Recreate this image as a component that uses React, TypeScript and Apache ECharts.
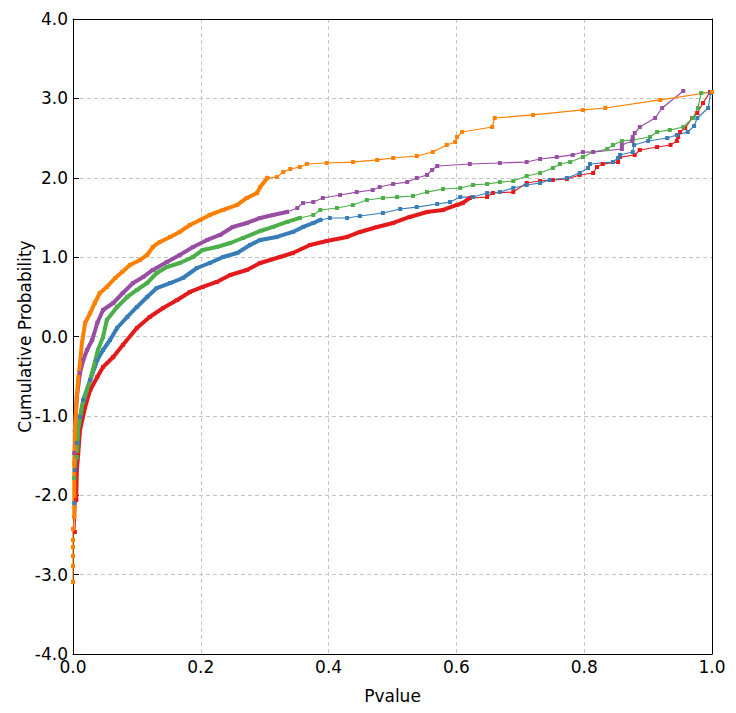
import React, { useEffect, useRef } from "react";
import * as echarts from "echarts";

// Sorted p-values (x) against their normal-score cumulative probability (y)
const redPoints: [number, number][] = [
  [0.003, -2.463], [0.005, -2.06], [0.006, -1.682], [0.008, -1.493], [0.011, -1.178],
  [0.019, -0.888], [0.027, -0.674], [0.038, -0.51], [0.047, -0.384], [0.063, -0.258],
  [0.078, -0.107], [0.1, 0.107], [0.12, 0.246], [0.141, 0.359], [0.163, 0.46],
  [0.183, 0.561], [0.203, 0.624], [0.225, 0.687], [0.246, 0.775], [0.272, 0.838],
  [0.293, 0.926], [0.324, 1.002], [0.344, 1.052], [0.371, 1.153], [0.397, 1.203],
  [0.429, 1.254], [0.449, 1.317], [0.476, 1.38], [0.501, 1.43], [0.527, 1.506],
  [0.554, 1.569], [0.579, 1.594], [0.601, 1.657], [0.61, 1.682], [0.621, 1.745],
  [0.648, 1.757], [0.657, 1.808], [0.689, 1.82], [0.71, 1.934], [0.731, 1.959],
  [0.751, 1.972], [0.773, 1.984], [0.793, 2.035], [0.814, 2.06], [0.82, 2.135],
  [0.829, 2.173], [0.853, 2.198], [0.856, 2.261], [0.879, 2.287], [0.887, 2.35],
  [0.914, 2.387], [0.935, 2.413], [0.945, 2.463], [0.947, 2.513], [0.95, 2.576],
  [0.958, 2.627], [0.969, 2.753], [0.977, 2.816], [0.986, 2.942], [0.997, 3.08],
];

const bluePoints: [number, number][] = [
  [0.002, -2.098], [0.003, -1.682], [0.006, -1.342], [0.011, -1.014], [0.016, -0.8],
  [0.027, -0.548], [0.038, -0.296], [0.047, -0.17], [0.058, -0.044], [0.069, 0.107],
  [0.085, 0.246], [0.1, 0.372], [0.116, 0.498], [0.131, 0.611], [0.152, 0.674],
  [0.172, 0.737], [0.194, 0.863], [0.214, 0.926], [0.235, 1.002], [0.257, 1.052],
  [0.277, 1.153], [0.293, 1.216], [0.319, 1.254], [0.344, 1.317], [0.36, 1.38],
  [0.376, 1.43], [0.387, 1.468], [0.402, 1.493], [0.429, 1.493], [0.449, 1.518],
  [0.485, 1.556], [0.512, 1.606], [0.538, 1.631], [0.57, 1.669], [0.59, 1.694],
  [0.606, 1.757], [0.626, 1.757], [0.648, 1.808], [0.668, 1.82], [0.689, 1.871],
  [0.71, 1.909], [0.731, 1.934], [0.746, 1.972], [0.773, 1.997], [0.793, 2.06],
  [0.806, 2.123], [0.809, 2.173], [0.845, 2.198], [0.853, 2.249], [0.856, 2.287],
  [0.876, 2.324], [0.878, 2.413], [0.9, 2.463], [0.93, 2.501], [0.945, 2.539],
  [0.962, 2.576], [0.972, 2.652], [0.977, 2.753], [0.994, 2.879], [0.998, 3.068],
];

const greenPoints: [number, number][] = [
  [0.002, -1.783], [0.006, -1.518], [0.008, -1.178], [0.014, -0.888], [0.022, -0.674],
  [0.031, -0.422], [0.039, -0.17], [0.047, -0.006], [0.053, 0.208], [0.069, 0.372],
  [0.085, 0.498], [0.1, 0.586], [0.116, 0.674], [0.131, 0.8], [0.147, 0.876],
  [0.167, 0.926], [0.188, 1.002], [0.203, 1.09], [0.225, 1.128], [0.246, 1.178],
  [0.266, 1.241], [0.293, 1.329], [0.313, 1.38], [0.335, 1.443], [0.355, 1.493],
  [0.376, 1.531], [0.387, 1.594], [0.413, 1.619], [0.438, 1.657], [0.46, 1.72],
  [0.485, 1.745], [0.507, 1.757], [0.532, 1.77], [0.554, 1.82], [0.579, 1.858],
  [0.606, 1.871], [0.626, 1.909], [0.648, 1.921], [0.668, 1.946], [0.689, 1.959],
  [0.71, 2.022], [0.731, 2.06], [0.751, 2.123], [0.762, 2.173], [0.778, 2.198],
  [0.798, 2.261], [0.814, 2.324], [0.836, 2.362], [0.845, 2.413], [0.859, 2.463],
  [0.876, 2.476], [0.903, 2.513], [0.914, 2.576], [0.934, 2.602], [0.955, 2.639],
  [0.97, 2.753], [0.978, 2.879], [0.983, 3.068], [1.0, 3.08],
];

const purplePoints: [number, number][] = [
  [0.002, -1.468], [0.003, -1.178], [0.006, -0.762], [0.011, -0.46], [0.016, -0.296],
  [0.022, -0.17], [0.03, -0.044], [0.038, 0.17], [0.047, 0.334], [0.063, 0.422],
  [0.078, 0.548], [0.094, 0.674], [0.11, 0.75], [0.125, 0.838], [0.147, 0.939],
  [0.167, 1.027], [0.188, 1.128], [0.21, 1.216], [0.23, 1.279], [0.25, 1.38],
  [0.272, 1.43], [0.293, 1.493], [0.313, 1.531], [0.335, 1.569], [0.351, 1.619],
  [0.36, 1.682], [0.376, 1.694], [0.391, 1.745], [0.418, 1.783], [0.444, 1.82],
  [0.469, 1.846], [0.48, 1.883], [0.501, 1.921], [0.523, 1.946], [0.538, 1.997],
  [0.554, 2.035], [0.562, 2.098], [0.57, 2.148], [0.621, 2.173], [0.668, 2.186],
  [0.71, 2.198], [0.731, 2.236], [0.757, 2.261], [0.782, 2.287], [0.798, 2.324],
  [0.814, 2.324], [0.859, 2.362], [0.859, 2.413], [0.875, 2.463], [0.876, 2.513],
  [0.879, 2.564], [0.887, 2.639], [0.911, 2.753], [0.922, 2.879], [0.955, 3.093],
];

const orangePoints: [number, number][] = [
  [0.0, -3.093], [0.0, -2.891], [0.0, -2.765], [0.0, -2.652], [0.0, -2.564],
  [0.0, -2.425], [0.002, -2.274], [0.002, -1.594], [0.003, -1.178], [0.006, -0.762],
  [0.008, -0.548], [0.011, -0.334], [0.014, -0.082], [0.019, 0.17], [0.027, 0.296],
  [0.034, 0.422], [0.042, 0.548], [0.053, 0.624], [0.066, 0.737], [0.077, 0.813],
  [0.089, 0.901], [0.105, 0.964], [0.116, 1.027], [0.125, 1.128], [0.136, 1.191],
  [0.152, 1.254], [0.167, 1.317], [0.183, 1.405], [0.199, 1.468], [0.214, 1.531],
  [0.235, 1.594], [0.257, 1.657], [0.272, 1.745], [0.288, 1.808], [0.293, 1.883],
  [0.304, 1.997], [0.319, 2.009], [0.329, 2.072], [0.34, 2.11], [0.355, 2.135],
  [0.366, 2.173], [0.397, 2.186], [0.438, 2.198], [0.476, 2.224], [0.501, 2.249],
  [0.538, 2.274], [0.563, 2.324], [0.585, 2.413], [0.598, 2.45], [0.601, 2.513],
  [0.609, 2.576], [0.656, 2.639], [0.66, 2.753], [0.72, 2.791], [0.798, 2.854],
  [0.833, 2.879], [0.919, 2.98], [1.0, 3.08],
];

const xTicks = [0, 0.2, 0.4, 0.6, 0.8, 1.0];
const yTicks = [-4, -3, -2, -1, 0, 1, 2, 3, 4];

const FONT = "DejaVu Sans";

type Group = {
  name: string;
  color: string;
  points: [number, number][];
  denseFromY: number;
  denseToX: number;
};

// Where the points crowd together, they are drawn as a solid thick stroke
const groups: Group[] = [
  { name: "red", color: "#e41a1c", points: redPoints, denseFromY: -2.1, denseToX: 0.621 },
  { name: "blue", color: "#377eb8", points: bluePoints, denseFromY: -1.7, denseToX: 0.387 },
  { name: "green", color: "#4daf4a", points: greenPoints, denseFromY: -1.6, denseToX: 0.355 },
  { name: "purple", color: "#984ea3", points: purplePoints, denseFromY: -1.3, denseToX: 0.335 },
  { name: "orange", color: "#ff7f00", points: orangePoints, denseFromY: -2.3, denseToX: 0.304 },
];

function buildSeries(): any[] {
  const out: any[] = [];
  groups.forEach((g) => {
    const dense = g.points.filter(([x, y]) => y >= g.denseFromY && x <= g.denseToX);
    out.push({
      name: g.name + "-dense",
      type: "line",
      data: dense,
      showSymbol: false,
      symbol: "none",
      silent: true,
      lineStyle: { color: g.color, width: 4, join: "round", cap: "square" },
    });
    out.push({
      name: g.name,
      type: "line",
      data: g.points,
      symbol: "rect",
      symbolSize: 4,
      showAllSymbol: true,
      silent: true,
      itemStyle: { color: g.color },
      lineStyle: { color: g.color, width: 1.2 },
    });
  });
  return out;
}

const gridLine = {
  show: true,
  showMinLine: false,
  showMaxLine: false,
  lineStyle: { color: "#c4c4c4", type: [4, 3], width: 1 },
};

// Top and right edges of the frame
const frameAxis = {
  type: "value",
  axisLine: { show: true, onZero: false, lineStyle: { color: "#000", width: 1 } },
  axisTick: { show: false },
  axisLabel: { show: false },
  splitLine: { show: false },
};

export default function App() {
  const ref = useRef<HTMLDivElement>(null);

  useEffect(() => {
    if (!ref.current) return;
    const chart = echarts.init(ref.current, undefined, { renderer: "svg" });
    chart.setOption({
      animation: false,
      backgroundColor: "#ffffff",
      grid: { left: 73, right: 24, top: 19, bottom: 59 },
      xAxis: [
        {
          type: "value",
          min: xTicks[0],
          max: xTicks[xTicks.length - 1],
          interval: 0.2,
          name: "Pvalue",
          nameLocation: "middle",
          nameGap: 33,
          nameMoveOverlap: false,
          nameTextStyle: { fontFamily: FONT, fontSize: 17, color: "#000" },
          axisLine: { show: true, onZero: false, lineStyle: { color: "#000", width: 1 } },
          axisTick: { show: false },
          axisLabel: {
            fontFamily: FONT,
            fontSize: 17,
            color: "#000",
            margin: 4,
            formatter: (v: number) => v.toFixed(1),
          },
          splitLine: gridLine,
        },
        { ...frameAxis, position: "top", min: 0, max: 1 },
      ],
      yAxis: [
        {
          type: "value",
          min: yTicks[0],
          max: yTicks[yTicks.length - 1],
          interval: 1,
          name: "Cumulative Probability",
          nameLocation: "middle",
          nameGap: 40,
          nameMoveOverlap: false,
          nameTextStyle: { fontFamily: FONT, fontSize: 17, color: "#000" },
          axisLine: { show: true, onZero: false, lineStyle: { color: "#000", width: 1 } },
          axisTick: { show: true, inside: true, length: 6, lineStyle: { color: "#000" } },
          axisLabel: {
            fontFamily: FONT,
            fontSize: 17,
            color: "#000",
            margin: 5,
            formatter: (v: number) => v.toFixed(1),
          },
          splitLine: gridLine,
        },
        { ...frameAxis, position: "right", min: -4, max: 4 },
      ],
      series: buildSeries(),
    });
    return () => chart.dispose();
  }, []);

  return (
    <div
      ref={ref}
      style={{ position: "fixed", left: 0, top: 0, width: 736, height: 713, background: "#fff" }}
    />
  );
}
